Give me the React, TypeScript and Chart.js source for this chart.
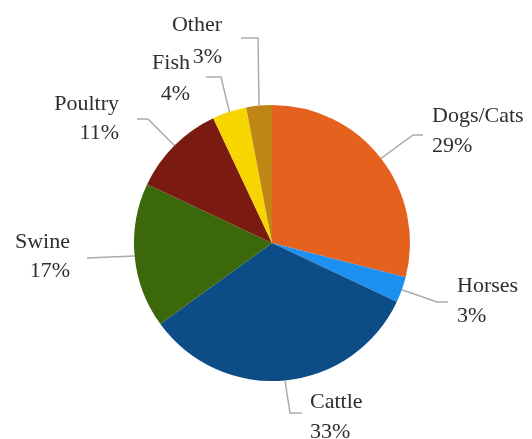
import React, { useEffect, useRef } from "react";
import { Chart, registerables } from "chart.js";

Chart.register(...registerables);

const categories = ["Dogs/Cats", "Horses", "Cattle", "Swine", "Poultry", "Fish", "Other"];
const shares = [29, 3, 33, 17, 11, 4, 3];
const sliceColors = ["#E5621E", "#1E90F0", "#0C4D88", "#3B680A", "#7A1A10", "#F7D500", "#BF8616"];

const LABEL_FONT = '22px "Liberation Serif"';

// callout layout (leader-line elbow/end and text anchor), in canvas pixels
type Callout = { elbow: number[] | null; end: number[]; text: number[]; align: "left" | "right"; gap: number };
const callouts: Callout[] = [
  { elbow: [413, 135], end: [423, 135], text: [432, 116], align: "left", gap: 30 },
  { elbow: [437, 302], end: [448, 302], text: [457, 286], align: "left", gap: 30 },
  { elbow: [290, 413], end: [302, 413], text: [310, 402], align: "left", gap: 30 },
  { elbow: null, end: [87, 258], text: [70, 242], align: "right", gap: 29 },
  { elbow: [148, 119], end: [137, 119], text: [119, 104], align: "right", gap: 29 },
  { elbow: [221, 77], end: [206, 77], text: [190, 63], align: "right", gap: 31 },
  { elbow: [258, 38], end: [241, 38], text: [222, 25], align: "right", gap: 32 },
];

const calloutPlugin = {
  id: "callouts",
  afterDatasetsDraw(chart: any) {
    const ctx = chart.ctx as CanvasRenderingContext2D;
    const meta = chart.getDatasetMeta(0);
    meta.data.forEach((arc: any, i: number) => {
      const p = arc.getProps(["x", "y", "startAngle", "endAngle", "outerRadius"], true);
      const mid = (p.startAngle + p.endAngle) / 2;
      const ax = p.x + Math.cos(mid) * p.outerRadius;
      const ay = p.y + Math.sin(mid) * p.outerRadius;
      const c = callouts[i];
      ctx.save();
      ctx.strokeStyle = "#ABABAB";
      ctx.lineWidth = 1.5;
      ctx.beginPath();
      ctx.moveTo(ax, ay);
      if (c.elbow) ctx.lineTo(c.elbow[0], c.elbow[1]);
      ctx.lineTo(c.end[0], c.end[1]);
      ctx.stroke();
      ctx.fillStyle = "#2E2E2E";
      ctx.font = LABEL_FONT + ', "Times New Roman", serif';
      ctx.textAlign = c.align;
      ctx.textBaseline = "middle";
      ctx.fillText(categories[i], c.text[0], c.text[1]);
      ctx.fillText(shares[i] + "%", c.text[0], c.text[1] + c.gap);
      ctx.restore();
    });
  },
};

export default function App() {
  const ref = useRef<HTMLCanvasElement | null>(null);
  useEffect(() => {
    if (!ref.current) return;
    const chart = new Chart(ref.current, {
      type: "pie",
      data: {
        labels: categories,
        datasets: [
          {
            data: shares,
            backgroundColor: sliceColors,
            borderWidth: 0,
          },
        ],
      },
      options: {
        animation: false,
        responsive: false,
        layout: { padding: { top: 105, bottom: 58, left: 134, right: 122 } },
        plugins: {
          legend: { display: false },
          tooltip: { enabled: false },
        },
      },
      plugins: [calloutPlugin],
    });
    let alive = true;
    if ((document as any).fonts && (document as any).fonts.load) {
      (document as any).fonts.load(LABEL_FONT, "Dogs/Cats 0123456789%").then(() => {
        if (alive) chart.update();
      }).catch(() => {});
    }
    return () => {
      alive = false;
      chart.destroy();
    };
  }, []);
  return (
    <div style={{ position: "absolute", left: 0, top: 0, width: 532, height: 439, background: "#ffffff" }}>
      <span style={{ fontFamily: '"Liberation Serif"', position: "absolute", left: -9999, top: 0 }}>Dogs/Cats</span>
      <canvas ref={ref} width={532} height={439} />
    </div>
  );
}
